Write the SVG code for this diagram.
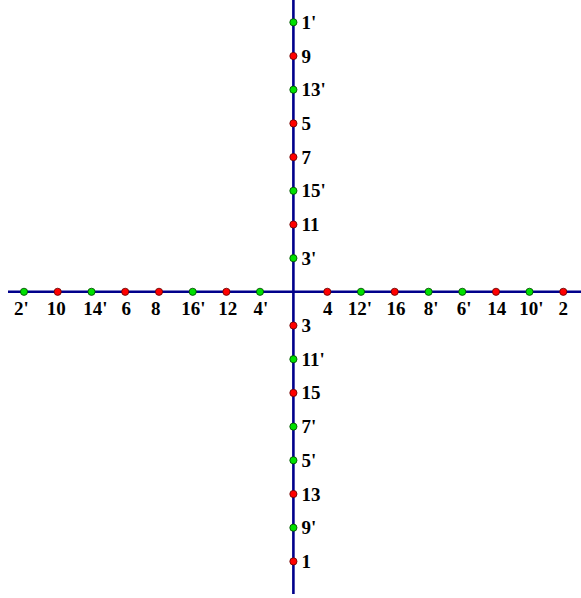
<svg xmlns="http://www.w3.org/2000/svg" width="581" height="598" viewBox="0 0 581 598">
<style>
.ax{stroke:#00008b;stroke-width:2.6;fill:none}
.r{fill:#ff0000;stroke:#600000;stroke-width:0.8}
.g{fill:#00e000;stroke:#004000;stroke-width:0.8}
text{font-family:"Liberation Serif","Times New Roman",serif;font-weight:bold;font-size:19px;fill:#000}
.h{text-anchor:middle}
</style>
<rect width="581" height="598" fill="#fff"/>
<g id="connectors">
<line class="ax" x1="8" y1="291.8" x2="581" y2="291.8"/>
<line class="ax" x1="293.4" y1="0" x2="293.4" y2="594"/>
</g>
<g id="n2p"><circle class="g" cx="24" cy="291.8" r="3.6"/><text class="h" x="21.5" y="314.5">2'</text></g>
<g id="n10"><circle class="r" cx="57.7" cy="291.8" r="3.6"/><text class="h" x="56.3" y="314.5">10</text></g>
<g id="n14p"><circle class="g" cx="91.5" cy="291.8" r="3.6"/><text class="h" x="95.3" y="314.5">14'</text></g>
<g id="n6"><circle class="r" cx="125.2" cy="291.8" r="3.6"/><text class="h" x="126.2" y="314.5">6</text></g>
<g id="n8"><circle class="r" cx="159" cy="291.8" r="3.6"/><text class="h" x="155.7" y="314.5">8</text></g>
<g id="n16p"><circle class="g" cx="192.7" cy="291.8" r="3.6"/><text class="h" x="193.3" y="314.5">16'</text></g>
<g id="n12"><circle class="r" cx="226.4" cy="291.8" r="3.6"/><text class="h" x="227.8" y="314.5">12</text></g>
<g id="n4p"><circle class="g" cx="260" cy="291.8" r="3.6"/><text class="h" x="261" y="314.5">4'</text></g>
<g id="n4"><circle class="r" cx="327.3" cy="291.8" r="3.6"/><text class="h" x="327.7" y="314.5">4</text></g>
<g id="n12p"><circle class="g" cx="361" cy="291.8" r="3.6"/><text class="h" x="360" y="314.5">12'</text></g>
<g id="n16"><circle class="r" cx="394.7" cy="291.8" r="3.6"/><text class="h" x="396" y="314.5">16</text></g>
<g id="n8p"><circle class="g" cx="428.6" cy="291.8" r="3.6"/><text class="h" x="431.2" y="314.5">8'</text></g>
<g id="n6p"><circle class="g" cx="462.3" cy="291.8" r="3.6"/><text class="h" x="464.2" y="314.5">6'</text></g>
<g id="n14"><circle class="r" cx="496" cy="291.8" r="3.6"/><text class="h" x="496.7" y="314.5">14</text></g>
<g id="n10p"><circle class="g" cx="529.5" cy="291.8" r="3.6"/><text class="h" x="531.3" y="314.5">10'</text></g>
<g id="n2"><circle class="r" cx="563.3" cy="291.8" r="3.6"/><text class="h" x="563.3" y="314.5">2</text></g>
<g id="n1p"><circle class="g" cx="293.4" cy="22.3" r="3.6"/><text x="301.5" y="28.8">1'</text></g>
<g id="n9"><circle class="r" cx="293.4" cy="56" r="3.6"/><text x="301.5" y="62.5">9</text></g>
<g id="n13p"><circle class="g" cx="293.4" cy="89.7" r="3.6"/><text x="301.5" y="96.2">13'</text></g>
<g id="n5"><circle class="r" cx="293.4" cy="123.4" r="3.6"/><text x="301.5" y="129.9">5</text></g>
<g id="n7"><circle class="r" cx="293.4" cy="157.1" r="3.6"/><text x="301.5" y="163.6">7</text></g>
<g id="n15p"><circle class="g" cx="293.4" cy="190.8" r="3.6"/><text x="301.5" y="197.3">15'</text></g>
<g id="n11"><circle class="r" cx="293.4" cy="224.5" r="3.6"/><text x="301.5" y="231">11</text></g>
<g id="n3p"><circle class="g" cx="293.4" cy="258.2" r="3.6"/><text x="301.5" y="264.7">3'</text></g>
<g id="n3"><circle class="r" cx="293.4" cy="325.5" r="3.6"/><text x="301.5" y="332">3</text></g>
<g id="n11p"><circle class="g" cx="293.4" cy="359.2" r="3.6"/><text x="301.5" y="365.7">11'</text></g>
<g id="n15"><circle class="r" cx="293.4" cy="392.9" r="3.6"/><text x="301.5" y="399.4">15</text></g>
<g id="n7p"><circle class="g" cx="293.4" cy="426.6" r="3.6"/><text x="301.5" y="433.1">7'</text></g>
<g id="n5p"><circle class="g" cx="293.4" cy="460.3" r="3.6"/><text x="301.5" y="466.8">5'</text></g>
<g id="n13"><circle class="r" cx="293.4" cy="494" r="3.6"/><text x="301.5" y="500.5">13</text></g>
<g id="n9p"><circle class="g" cx="293.4" cy="527.7" r="3.6"/><text x="301.5" y="534.2">9'</text></g>
<g id="n1"><circle class="r" cx="293.4" cy="561.4" r="3.6"/><text x="301.5" y="567.9">1</text></g>
</svg>
